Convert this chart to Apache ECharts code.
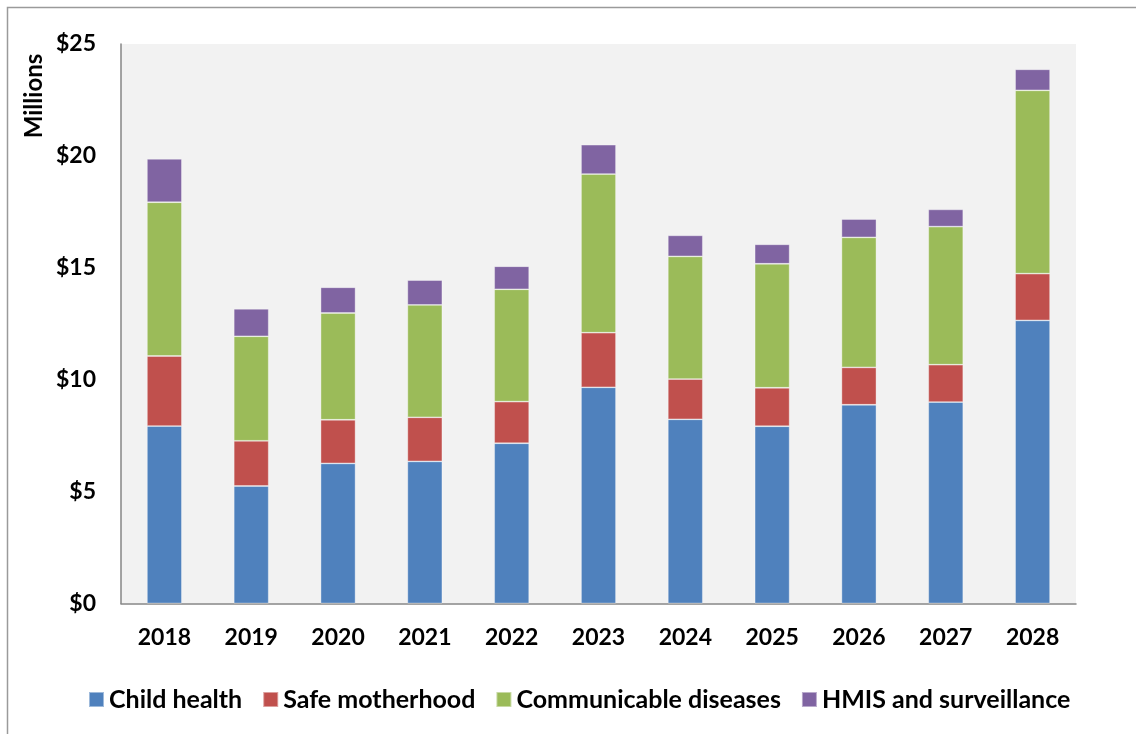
<!DOCTYPE html>
<html>
<head>
<meta charset="utf-8">
<script src="https://cdn.jsdelivr.net/npm/echarts@6/dist/echarts.min.js"></script>
<style>
  html, body { margin: 0; padding: 0; background: #fff; }
  #chart { width: 1136px; height: 734px; }
</style>
</head>
<body>
<div id="chart"></div>
<script>
// Funding by programme area, millions of dollars
const years = ['2018', '2019', '2020', '2021', '2022', '2023', '2024', '2025', '2026', '2027', '2028'];
const childHealth      = [7.93, 5.25, 6.26, 6.35, 7.16, 9.66, 8.23, 7.92, 8.88, 9.00, 12.65];
const safeMotherhood   = [3.13, 2.02, 1.95, 1.97, 1.86, 2.44, 1.80, 1.72, 1.67, 1.67, 2.09];
const communicable     = [6.87, 4.67, 4.77, 5.02, 5.02, 7.09, 5.48, 5.54, 5.81, 6.17, 8.19];
const hmisSurveillance = [1.94, 1.23, 1.15, 1.11, 1.03, 1.31, 0.94, 0.87, 0.82, 0.77, 0.94];
const seriesNames = ['Child health', 'Safe motherhood', 'Communicable diseases', 'HMIS and surveillance'];
const seriesColors = ['#4F81BD', '#C0504D', '#9BBB59', '#8064A2'];

const FONT = 'Lato, "Open Sans", sans-serif';

const chart = echarts.init(document.getElementById('chart'), null, { renderer: 'canvas' });

function makeSeries(name, data, color) {
  return {
    name: name,
    type: 'bar',
    stack: 'total',
    barWidth: 35,
    data: data,
    itemStyle: { color: color, borderColor: 'rgba(255,255,255,0.45)', borderWidth: 0.8 },
    emphasis: { disabled: true }
  };
}

chart.setOption({
  animation: false,
  backgroundColor: '#ffffff',
  graphic: [
    {
      type: 'rect',
      shape: { x: 7.5, y: 7.5, width: 1140, height: 740 },
      style: { fill: 'none', stroke: '#9a9a9a', lineWidth: 1.5 },
      silent: true
    },
    {
      type: 'text',
      x: 34, y: 96,
      rotation: Math.PI / 2,
      style: {
        text: 'Millions',
        font: 'bold 24px ' + FONT,
        fill: '#000',
        align: 'center',
        verticalAlign: 'middle'
      },
      silent: true
    }
  ],
  grid: {
    left: 121, right: 60, top: 44, bottom: 130.5,
    show: true,
    backgroundColor: '#F2F2F2',
    borderWidth: 0
  },
  legend: {
    data: seriesNames,
    left: 83,
    top: 682,
    itemWidth: 15,
    itemHeight: 15,
    itemGap: 20,
    icon: 'rect',
    textStyle: { fontFamily: FONT, fontWeight: 'bold', fontSize: 25, color: '#000' }
  },
  xAxis: {
    type: 'category',
    data: years,
    axisLine: { show: true, lineStyle: { color: '#868686', width: 1.5 } },
    axisTick: { show: false },
    axisLabel: { fontFamily: FONT, fontWeight: 'bold', fontSize: 23, color: '#000', margin: 23 },
    splitLine: { show: false }
  },
  yAxis: {
    type: 'value',
    min: 0, max: 25, interval: 5,
    axisLine: { show: true, lineStyle: { color: '#868686', width: 1.5 } },
    axisTick: { show: false },
    splitLine: { show: false },
    axisLabel: {
      fontFamily: FONT, fontWeight: 'bold', fontSize: 23, color: '#000', margin: 25,
      formatter: v => '$' + v
    }
  },
  series: [
    makeSeries(seriesNames[0], childHealth, seriesColors[0]),
    makeSeries(seriesNames[1], safeMotherhood, seriesColors[1]),
    makeSeries(seriesNames[2], communicable, seriesColors[2]),
    makeSeries(seriesNames[3], hmisSurveillance, seriesColors[3])
  ]
});
</script>
</body>
</html>
